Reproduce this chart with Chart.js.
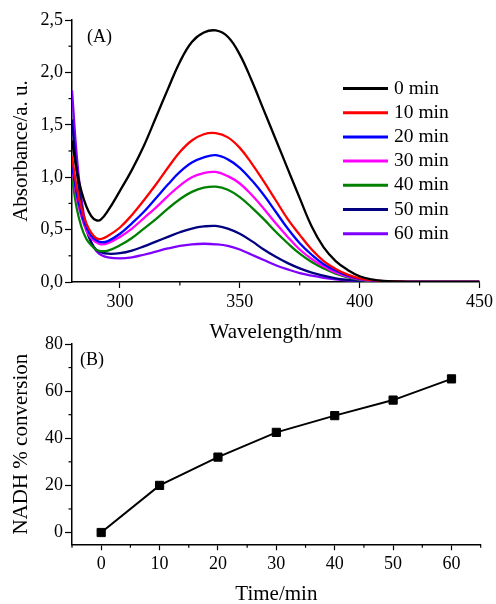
<!DOCTYPE html>
<html><head><meta charset="utf-8">
<script src="https://cdn.jsdelivr.net/npm/chart.js@4.4.1/dist/chart.umd.min.js"></script>
<style>
html,body{margin:0;padding:0;background:#fff;overflow:hidden;width:496px;height:604px}
#wA{position:absolute;left:0;top:0;width:496px;height:350px}
#wB{position:absolute;left:0;top:330px;width:496px;height:280px}
</style></head><body>
<div id="wA"><canvas id="cA"></canvas></div>
<div id="wB"><canvas id="cB"></canvas></div>
<script>
// ---------- Panel A data ----------
const wavelengths = [280,282,284,286,288,290,292,295,300,305,310,315,320,325,330,335,340,345,350,355,360,365,370,375,380,385,390,395,400,405,410,420,430,440,450];
const abs0min  = [1.35,1.06,0.86,0.72,0.63,0.59,0.595,0.68,0.87,1.07,1.30,1.57,1.84,2.10,2.29,2.38,2.40,2.34,2.17,1.92,1.64,1.36,1.08,0.80,0.53,0.33,0.20,0.115,0.055,0.025,0.01,0.002,0,0,0];
const abs10min = [1.20,0.90,0.70,0.56,0.47,0.42,0.41,0.44,0.52,0.64,0.78,0.93,1.09,1.24,1.35,1.41,1.42,1.38,1.28,1.13,0.96,0.78,0.60,0.45,0.31,0.20,0.125,0.07,0.035,0.017,0.008,0.002,0,0,0];
const abs20min = [1.12,0.84,0.65,0.52,0.44,0.40,0.38,0.39,0.46,0.56,0.67,0.80,0.93,1.05,1.14,1.19,1.21,1.17,1.09,0.97,0.83,0.67,0.51,0.37,0.26,0.17,0.11,0.06,0.03,0.014,0.006,0.001,0,0,0];
const abs30min = [1.10,0.80,0.62,0.49,0.42,0.38,0.36,0.37,0.43,0.51,0.61,0.71,0.82,0.92,1.00,1.04,1.05,1.01,0.94,0.83,0.70,0.56,0.43,0.31,0.22,0.15,0.09,0.05,0.025,0.012,0.005,0.001,0,0,0];
const abs40min = [1.00,0.70,0.52,0.41,0.35,0.31,0.295,0.30,0.35,0.42,0.51,0.60,0.70,0.79,0.86,0.90,0.91,0.88,0.81,0.71,0.60,0.48,0.37,0.27,0.19,0.13,0.08,0.045,0.02,0.01,0.004,0.001,0,0,0];
const abs50min = [1.55,1.05,0.72,0.50,0.38,0.31,0.285,0.27,0.275,0.30,0.34,0.385,0.43,0.475,0.51,0.53,0.535,0.51,0.46,0.39,0.31,0.24,0.18,0.13,0.09,0.06,0.035,0.02,0.01,0.005,0.003,0.001,0,0,0];
const abs60min = [1.83,1.20,0.78,0.52,0.38,0.30,0.26,0.235,0.225,0.235,0.26,0.29,0.32,0.345,0.36,0.365,0.36,0.345,0.31,0.26,0.21,0.16,0.12,0.085,0.06,0.04,0.025,0.015,0.008,0.004,0.002,0.001,0,0,0];
const seriesLabels = ['0 min','10 min','20 min','30 min','40 min','50 min','60 min'];
const seriesColors = ['#000000','#ff0000','#0000ff','#ff00ff','#008000','#000080','#8000ff'];
const xTicksA = [300,350,400,450];
const xMinorA = [325,375,425];
const yTicksA = [0,0.5,1.0,1.5,2.0,2.5];
const yMinorA = [0.25,0.75,1.25,1.75,2.25];

// ---------- Panel B data ----------
const times = [0,10,20,30,40,50,60];
const conversion = [0,20,32,42.5,49.6,56.2,65.2];
const xTicksB = [0,10,20,30,40,50,60];
const xMinorB = [-5,5,15,25,35,45,55,65];
const yTicksB = [0,20,40,60,80];
const yMinorB = [10,30,50,70];

Chart.defaults.font.family = '"Liberation Serif","Times New Roman",serif';
Chart.defaults.color = '#000';

function minorTicksPlugin(xm, ym, len) {
  return {
    id: 'minorTicks',
    afterDraw(chart) {
      const ctx = chart.ctx, xs = chart.scales.x, ys = chart.scales.y;
      ctx.save(); ctx.strokeStyle = '#000'; ctx.lineWidth = 1.2;
      xm.forEach(v => { const p = xs.getPixelForValue(v); ctx.beginPath(); ctx.moveTo(p, xs.top); ctx.lineTo(p, xs.top + len); ctx.stroke(); });
      ym.forEach(v => { const p = ys.getPixelForValue(v); ctx.beginPath(); ctx.moveTo(ys.right, p); ctx.lineTo(ys.right - len, p); ctx.stroke(); });
      ctx.restore();
    }
  };
}
function panelLabelPlugin(text, x, y) {
  return {
    id: 'panelLabel',
    afterDraw(chart) {
      const ctx = chart.ctx; ctx.save();
      ctx.font = '18px "Liberation Serif","Times New Roman",serif';
      ctx.fillStyle = '#000'; ctx.textBaseline = 'middle'; ctx.textAlign = 'left';
      ctx.fillText(text, x, y); ctx.restore();
    }
  };
}
const legendPlugin = {
  id: 'insideLegend',
  afterDraw(chart) {
    const ctx = chart.ctx; ctx.save();
    ctx.font = '19.5px "Liberation Serif","Times New Roman",serif';
    ctx.textBaseline = 'middle'; ctx.textAlign = 'left';
    chart.data.datasets.forEach((ds, i) => {
      const y = 88.5 + i * 24.2;
      ctx.strokeStyle = ds.borderColor; ctx.lineWidth = 3;
      ctx.beginPath(); ctx.moveTo(343, y); ctx.lineTo(388, y); ctx.stroke();
      ctx.fillStyle = '#000'; ctx.fillText(ds.label, 394, y);
    });
    ctx.restore();
  }
};

function axisCommon(tickLen) {
  return {
    grid: {display: true, drawOnChartArea: false, drawTicks: true, tickLength: tickLen, tickWidth: 1.2, tickColor: '#000'},
    border: {display: true, color: '#000', width: 1.5}
  };
}

const allSeries = [abs0min, abs10min, abs20min, abs30min, abs40min, abs50min, abs60min];
new Chart(document.getElementById('cA'), {
  type: 'line',
  data: {
    datasets: allSeries.map((arr, i) => ({
      label: seriesLabels[i],
      data: wavelengths.map((w, k) => ({x: w, y: arr[k]})),
      borderColor: seriesColors[i], borderWidth: 2.3, pointRadius: 0,
      tension: 0.4, fill: false
    }))
  },
  options: {
    responsive: true, maintainAspectRatio: false, animation: false, devicePixelRatio: 1,
    layout: {padding: {top: 20, right: 16, left: 0, bottom: 0}},
    plugins: {legend: {display: false}, tooltip: {enabled: false}},
    scales: {
      x: Object.assign(axisCommon(6), {
        type: 'linear', min: 280, max: 450,
        afterBuildTicks: s => { s.ticks = xTicksA.map(v => ({value: v})); },
        afterFit: s => { s.height = 68; },
        ticks: {font: {size: 18}, color: '#000', padding: 3, maxRotation: 0, autoSkip: false},
        title: {display: true, text: 'Wavelength/nm', font: {size: 21}, color: '#000', padding: {top: 0, bottom: 5}}
      }),
      y: Object.assign(axisCommon(7), {
        type: 'linear', min: 0, max: 2.5,
        afterBuildTicks: s => { s.ticks = yTicksA.map(v => ({value: v})); },
        afterFit: s => { s.width = 72; },
        ticks: {font: {size: 18}, color: '#000', padding: 2, callback: v => v.toFixed(1).replace('.', ',')},
        title: {display: true, text: 'Absorbance/a. u.', font: {size: 21}, color: '#000', padding: {top: 9, bottom: 0}}
      })
    }
  },
  plugins: [minorTicksPlugin(xMinorA, yMinorA, 3.5), panelLabelPlugin('(A)', 87, 37.5), legendPlugin]
});

new Chart(document.getElementById('cB'), {
  type: 'line',
  data: {
    datasets: [{
      label: 'NADH % conversion',
      data: times.map((t, k) => ({x: t, y: conversion[k]})),
      borderColor: '#000', borderWidth: 2, tension: 0,
      pointStyle: 'rect', pointRadius: 5.8, pointBackgroundColor: '#000', pointBorderColor: '#000', pointBorderWidth: 1
    }]
  },
  options: {
    responsive: true, maintainAspectRatio: false, animation: false, devicePixelRatio: 1,
    layout: {padding: {top: 14, right: 15.3, left: 0, bottom: 0}},
    plugins: {legend: {display: false}, tooltip: {enabled: false}},
    scales: {
      x: Object.assign(axisCommon(6), {
        type: 'linear', min: -5, max: 65,
        afterBuildTicks: s => { s.ticks = xTicksB.map(v => ({value: v})); },
        afterFit: s => { s.height = 65.7; },
        ticks: {font: {size: 18}, color: '#000', padding: 3, maxRotation: 0, autoSkip: false},
        title: {display: true, text: 'Time/min', font: {size: 21}, color: '#000', padding: {top: 0, bottom: 3.4}}
      }),
      y: Object.assign(axisCommon(7), {
        type: 'linear', min: -5, max: 80,
        afterBuildTicks: s => { s.ticks = yTicksB.map(v => ({value: v})); },
        afterFit: s => { s.width = 72; },
        ticks: {font: {size: 18}, color: '#000', padding: 2},
        title: {display: true, text: 'NADH % conversion', font: {size: 21}, color: '#000', padding: {top: 9, bottom: 0}}
      })
    }
  },
  plugins: [minorTicksPlugin(xMinorB, yMinorB, 3.5), panelLabelPlugin('(B)', 80, 30)]
});
</script>
</body></html>
